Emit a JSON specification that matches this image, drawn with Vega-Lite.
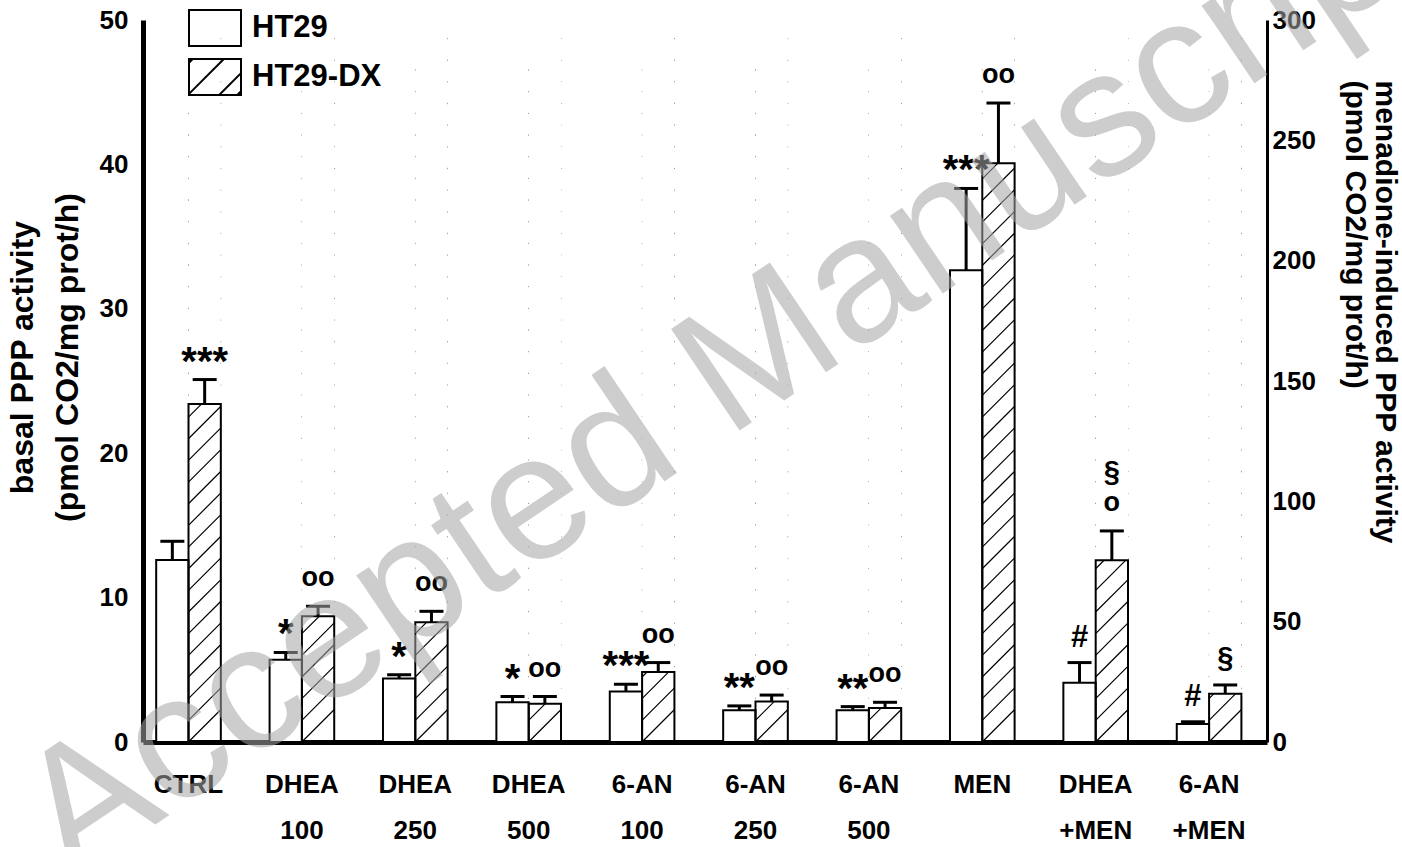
{
  "$schema": "https://vega.github.io/schema/vega-lite/v6.json",
  "width": 1124,
  "height": 722,
  "autosize": {"type": "none"},
  "padding": {"left": 143, "top": 20, "right": 135, "bottom": 105},
  "background": "white",
  "config": {
    "view": {"stroke": null},
    "axis": {"grid": false, "ticks": false, "tickSize": 0, "domainColor": "black", "labelColor": "black", "titleColor": "black", "labelFont": "Liberation Sans", "titleFont": "Liberation Sans", "labelFontWeight": "bold", "titleFontWeight": "bold", "zindex": 0}
  },
  "data": {"values": [
    {"group": "CTRL", "series": "HT29", "side": "left", "value": 12.6, "hi": 13.9, "ann": "", "ann2": ""},
    {"group": "CTRL", "series": "HT29-DX", "side": "left", "value": 23.4, "hi": 25.1, "ann": "***", "ann2": ""},
    {"group": "DHEA 100", "series": "HT29", "side": "left", "value": 5.7, "hi": 6.2, "ann": "*", "ann2": ""},
    {"group": "DHEA 100", "series": "HT29-DX", "side": "left", "value": 8.7, "hi": 9.4, "ann": "oo", "ann2": ""},
    {"group": "DHEA 250", "series": "HT29", "side": "left", "value": 4.4, "hi": 4.65, "ann": "*", "ann2": ""},
    {"group": "DHEA 250", "series": "HT29-DX", "side": "left", "value": 8.3, "hi": 9.05, "ann": "oo", "ann2": ""},
    {"group": "DHEA 500", "series": "HT29", "side": "left", "value": 2.75, "hi": 3.15, "ann": "*", "ann2": ""},
    {"group": "DHEA 500", "series": "HT29-DX", "side": "left", "value": 2.65, "hi": 3.15, "ann": "oo", "ann2": ""},
    {"group": "6-AN 100", "series": "HT29", "side": "left", "value": 3.5, "hi": 4.0, "ann": "***", "ann2": ""},
    {"group": "6-AN 100", "series": "HT29-DX", "side": "left", "value": 4.85, "hi": 5.5, "ann": "oo", "ann2": ""},
    {"group": "6-AN 250", "series": "HT29", "side": "left", "value": 2.2, "hi": 2.5, "ann": "**", "ann2": ""},
    {"group": "6-AN 250", "series": "HT29-DX", "side": "left", "value": 2.8, "hi": 3.25, "ann": "oo", "ann2": ""},
    {"group": "6-AN 500", "series": "HT29", "side": "left", "value": 2.2, "hi": 2.45, "ann": "**", "ann2": ""},
    {"group": "6-AN 500", "series": "HT29-DX", "side": "left", "value": 2.35, "hi": 2.75, "ann": "oo", "ann2": ""},
    {"group": "MEN", "series": "HT29", "side": "right", "value": 196, "hi": 230, "ann": "***", "ann2": ""},
    {"group": "MEN", "series": "HT29-DX", "side": "right", "value": 240.5, "hi": 265.5, "ann": "oo", "ann2": ""},
    {"group": "DHEA +MEN", "series": "HT29", "side": "right", "value": 24.6, "hi": 33, "ann": "#", "ann2": ""},
    {"group": "DHEA +MEN", "series": "HT29-DX", "side": "right", "value": 75.5, "hi": 87.7, "ann": "o", "ann2": "§"},
    {"group": "6-AN +MEN", "series": "HT29", "side": "right", "value": 7.5, "hi": 8.4, "ann": "#", "ann2": ""},
    {"group": "6-AN +MEN", "series": "HT29-DX", "side": "right", "value": 20, "hi": 23.7, "ann": "§", "ann2": ""}
  ]},
  "encoding": {
    "x": {"field": "group", "type": "nominal",
      "scale": {"domain": ["CTRL", "DHEA 100", "DHEA 250", "DHEA 500", "6-AN 100", "6-AN 250", "6-AN 500", "MEN", "DHEA +MEN", "6-AN +MEN"], "paddingInner": 0.43, "paddingOuter": 0.171, "align": 0.34},
      "axis": {"title": null, "labelAngle": 0, "labelExpr": "split(datum.label, ' ')", "labelFontSize": 26, "labelLineHeight": 46, "labelPadding": 29, "domainWidth": 5, "labelBaseline": "top"}},
    "xOffset": {"field": "series", "type": "nominal", "scale": {"domain": ["HT29", "HT29-DX"]}}
  },
  "layer": [
    {
      "layer": [
        {
          "transform": [{"filter": "datum.series === 'HT29-DX'"}],
          "mark": {"type": "point", "shape": "M-0.045,1L0.045,0.91M-0.045,0.94L0.045,0.85M-0.045,0.88L0.045,0.79M-0.045,0.82L0.045,0.73M-0.045,0.76L0.045,0.67M-0.045,0.7L0.045,0.61M-0.045,0.64L0.045,0.55M-0.045,0.58L0.045,0.49M-0.045,0.52L0.045,0.43M-0.045,0.46L0.045,0.37M-0.045,0.4L0.045,0.31M-0.045,0.34L0.045,0.25M-0.045,0.28L0.045,0.19M-0.045,0.22L0.045,0.13M-0.045,0.16L0.045,0.07M-0.045,0.1L0.045,0.01M-0.045,0.04L0.045,-0.05M-0.045,-0.02L0.045,-0.11M-0.045,-0.08L0.045,-0.17M-0.045,-0.14L0.045,-0.23M-0.045,-0.2L0.045,-0.29M-0.045,-0.26L0.045,-0.35M-0.045,-0.32L0.045,-0.41M-0.045,-0.38L0.045,-0.47M-0.045,-0.44L0.045,-0.53M-0.045,-0.5L0.045,-0.59M-0.045,-0.56L0.045,-0.65M-0.045,-0.62L0.045,-0.71M-0.045,-0.68L0.045,-0.77M-0.045,-0.74L0.045,-0.83M-0.045,-0.8L0.045,-0.89M-0.045,-0.86L0.045,-0.95", "size": 521284, "filled": false, "stroke": "black", "strokeWidth": 1.2, "opacity": 1},
          "encoding": {"y": {"datum": 25, "type": "quantitative", "scale": {"domain": [0, 50]}}}
        },
        {
          "transform": [{"filter": "datum.series === 'HT29-DX' && datum.side === 'left'"}],
          "mark": {"type": "bar", "fill": "white", "strokeWidth": 0},
          "encoding": {"y": {"field": "value", "type": "quantitative", "scale": {"domain": [0, 50]}}, "y2": {"datum": 50}}
        },
        {
          "transform": [{"filter": "datum.side === 'left'"}],
          "mark": {"type": "bar", "stroke": "black", "strokeWidth": 2},
          "encoding": {
            "y": {"field": "value", "type": "quantitative", "scale": {"domain": [0, 50]},
              "axis": {"orient": "left", "values": [0, 10, 20, 30, 40, 50], "labelFontSize": 26, "labelPadding": 15, "domainWidth": 5,
                "title": ["basal PPP activity", "(pmol CO2/mg prot/h)"], "titleFontSize": 32, "titleLineHeight": 45, "titlePadding": 15, "titleY": 337}},
            "fill": {"condition": {"test": "datum.series === 'HT29'", "value": "white"}, "value": "transparent"}
          }
        },
        {
          "transform": [{"filter": "datum.side === 'left'"}],
          "mark": {"type": "rule", "color": "black", "strokeWidth": 3},
          "encoding": {"y": {"field": "value", "type": "quantitative"}, "y2": {"field": "hi"}}
        },
        {
          "transform": [{"filter": "datum.side === 'left'"}],
          "mark": {"type": "tick", "color": "black", "size": 24, "thickness": 3, "opacity": 1},
          "encoding": {"y": {"field": "hi", "type": "quantitative"}}
        },
        {
          "transform": [{"filter": "datum.side === 'left' && indexof(datum.ann, '*') >= 0"}],
          "mark": {"type": "text", "font": "Liberation Sans", "fontWeight": "bold", "fontSize": 40, "align": "center", "baseline": "alphabetic", "dy": -5, "color": "black"},
          "encoding": {"y": {"field": "hi", "type": "quantitative"}, "text": {"field": "ann"}}
        },
        {
          "transform": [{"filter": "datum.side === 'left' && indexof(datum.ann, 'o') >= 0"}],
          "mark": {"type": "text", "font": "Liberation Sans", "fontWeight": "bold", "fontSize": 27, "align": "center", "baseline": "alphabetic", "dy": -20, "color": "black"},
          "encoding": {"y": {"field": "hi", "type": "quantitative"}, "text": {"field": "ann"}}
        },
        {
          "transform": [{"filter": "datum.side === 'left'"}],
          "mark": {"type": "point", "filled": false, "color": "black", "size": 0, "strokeWidth": 0},
          "encoding": {
            "y": {"field": "value", "type": "quantitative"},
            "shape": {"field": "series", "type": "nominal",
              "scale": {"domain": ["HT29", "HT29-DX"], "range": ["M-1,-0.69L1,-0.69L1,0.69L-1,0.69Z", "M-1,-0.69L1,-0.69L1,0.69L-1,0.69ZM-1,0.65L0.34,-0.69M0.16,0.69L1,-0.15M-1,-0.55L-0.86,-0.69M0.86,0.69L1,0.55"]},
              "legend": {"orient": "none", "legendX": 45, "legendY": -19, "title": null, "padding": 0, "rowPadding": -4, "symbolSize": 2704, "symbolStrokeWidth": 2, "symbolStrokeColor": "black", "symbolOpacity": 1, "labelFont": "Liberation Sans", "labelFontSize": 31, "labelFontWeight": "bold", "labelColor": "black", "labelOffset": 10}}
          }
        }
      ]
    },
    {
      "layer": [
        {
          "transform": [{"filter": "datum.series === 'HT29-DX' && datum.side === 'right'"}],
          "mark": {"type": "bar", "fill": "white", "strokeWidth": 0},
          "encoding": {"y": {"field": "value", "type": "quantitative", "scale": {"domain": [0, 300]}}, "y2": {"datum": 300}}
        },
        {
          "transform": [{"filter": "datum.side === 'right'"}],
          "mark": {"type": "bar", "stroke": "black", "strokeWidth": 2},
          "encoding": {
            "y": {"field": "value", "type": "quantitative", "scale": {"domain": [0, 300]},
              "axis": {"orient": "right", "values": [0, 50, 100, 150, 200, 250, 300], "labelFontSize": 26, "labelPadding": 5, "domainWidth": 3,
                "title": ["menadione-induced PPP activity", "(pmol CO2/mg prot/h)"], "titleFontSize": 30, "titleLineHeight": 30, "titlePadding": 24, "titleAlign": "left", "titleY": 60}},
            "fill": {"condition": {"test": "datum.series === 'HT29'", "value": "white"}, "value": "transparent"}
          }
        },
        {
          "transform": [{"filter": "datum.side === 'right'"}],
          "mark": {"type": "rule", "color": "black", "strokeWidth": 3},
          "encoding": {"y": {"field": "value", "type": "quantitative"}, "y2": {"field": "hi"}}
        },
        {
          "transform": [{"filter": "datum.side === 'right'"}],
          "mark": {"type": "tick", "color": "black", "size": 24, "thickness": 3, "opacity": 1},
          "encoding": {"y": {"field": "hi", "type": "quantitative"}}
        },
        {
          "transform": [{"filter": "datum.side === 'right' && indexof(datum.ann, '*') >= 0"}],
          "mark": {"type": "text", "font": "Liberation Sans", "fontWeight": "bold", "fontSize": 40, "align": "center", "baseline": "alphabetic", "dy": -5, "color": "black"},
          "encoding": {"y": {"field": "hi", "type": "quantitative"}, "text": {"field": "ann"}}
        },
        {
          "transform": [{"filter": "datum.side === 'right' && indexof(datum.ann, 'o') >= 0"}],
          "mark": {"type": "text", "font": "Liberation Sans", "fontWeight": "bold", "fontSize": 27, "align": "center", "baseline": "alphabetic", "dy": -20, "color": "black"},
          "encoding": {"y": {"field": "hi", "type": "quantitative"}, "text": {"field": "ann"}}
        },
        {
          "transform": [{"filter": "datum.side === 'right' && datum.ann === '#'"}],
          "mark": {"type": "text", "font": "Liberation Sans", "fontWeight": "bold", "fontSize": 31, "align": "center", "baseline": "alphabetic", "dy": -16, "color": "black"},
          "encoding": {"y": {"field": "hi", "type": "quantitative"}, "text": {"field": "ann"}}
        },
        {
          "transform": [{"filter": "datum.side === 'right' && datum.ann === '§'"}],
          "mark": {"type": "text", "font": "Liberation Sans", "fontWeight": "bold", "fontSize": 29, "align": "center", "baseline": "alphabetic", "dy": -18, "color": "black"},
          "encoding": {"y": {"field": "hi", "type": "quantitative"}, "text": {"field": "ann"}}
        },
        {
          "transform": [{"filter": "datum.side === 'right' && datum.ann2 === '§'"}],
          "mark": {"type": "text", "font": "Liberation Sans", "fontWeight": "bold", "fontSize": 29, "align": "center", "baseline": "alphabetic", "dy": -50, "color": "black"},
          "encoding": {"y": {"field": "hi", "type": "quantitative"}, "text": {"field": "ann2"}}
        },
        {
          "transform": [{"filter": "datum.group === 'MEN' && datum.series === 'HT29'"}],
          "mark": {"type": "text", "font": "Liberation Sans", "fontSize": 178, "angle": -34, "align": "center", "baseline": "alphabetic", "dx": -309, "dy": 90, "fill": "#a6a6a6", "opacity": 0.55},
          "encoding": {"y": {"datum": 238, "type": "quantitative"}, "text": {"value": "Accepted Manuscript"}}
        }
      ]
    }
  ],
  "resolve": {"scale": {"y": "independent"}, "axis": {"y": "independent"}}
}
